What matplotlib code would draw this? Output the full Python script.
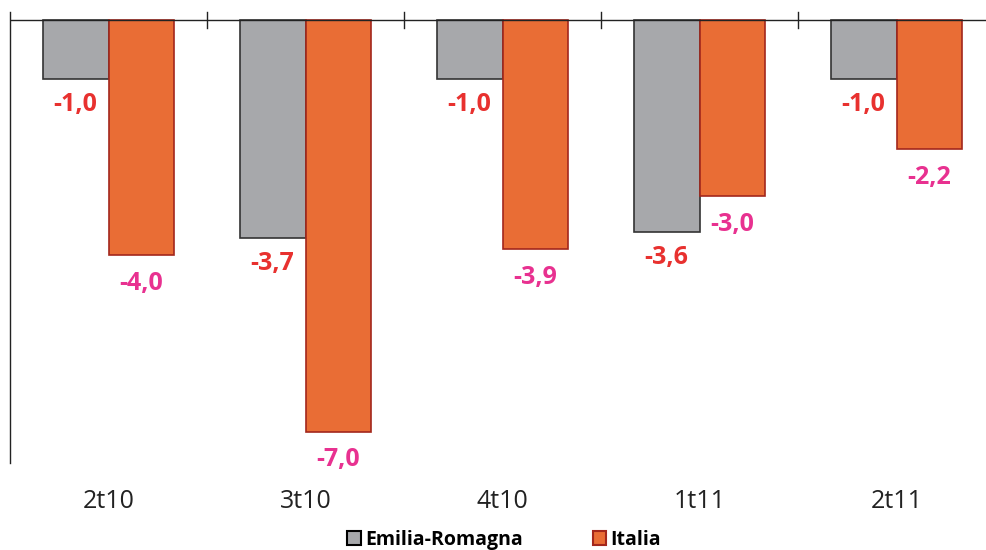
import matplotlib
matplotlib.use("Agg")
import matplotlib.pyplot as plt
import numpy as np
from matplotlib.patches import Patch

categories = ["2t10", "3t10", "4t10", "1t11", "2t11"]
emilia = [-1.0, -3.7, -1.0, -3.6, -1.0]
italia = [-4.0, -7.0, -3.9, -3.0, -2.2]
emilia_labels = ["-1,0", "-3,7", "-1,0", "-3,6", "-1,0"]
italia_labels = ["-4,0", "-7,0", "-3,9", "-3,0", "-2,2"]

gray = "#a7a8ab"
gray_edge = "#333333"
orange = "#e96d35"
orange_edge = "#a3271c"
red_txt = "#e8312f"
pink_txt = "#e83190"

plt.rcParams['font.family'] = ['Open Sans', 'DejaVu Sans']

fig = plt.figure(figsize=(9.86, 5.5), dpi=100)
W, H = 986, 550
left, right, top, bottom = 10, 995, 12, 463
ax = fig.add_axes([left / W, 1 - bottom / H, (right - left) / W, (bottom - top) / H])

x = np.arange(len(categories))
bw = 0.335
ax.bar(x - bw / 2, emilia, bw, color=gray, edgecolor=gray_edge, linewidth=1.2, zorder=2)
ax.bar(x + bw / 2, italia, bw, color=orange, edgecolor=orange_edge, linewidth=1.2, zorder=2)

for i in range(len(categories)):
    ax.annotate(emilia_labels[i], (x[i] - bw / 2, emilia[i]), xytext=(0, -26 / 1.389),
                textcoords="offset points", ha="center", va="center",
                fontsize=18, fontweight="bold", color=red_txt)
    ax.annotate(italia_labels[i], (x[i] + bw / 2, italia[i]), xytext=(0, -28 / 1.389),
                textcoords="offset points", ha="center", va="center",
                fontsize=18, fontweight="bold", color=pink_txt)

ax.set_xlim(-0.5, len(categories) - 0.5)
ax.set_ylim(-7.53, 0.136)
ax.axhline(0, color="#222222", linewidth=1.0, zorder=3)
for b in np.arange(0.5, len(categories) - 0.5, 1.0):
    ax.plot([b, b], [-0.14, 0.136], color="#222222", linewidth=1.0, zorder=3, clip_on=False)

for s in ["top", "right", "bottom"]:
    ax.spines[s].set_visible(False)
ax.spines["left"].set_color("#222222")
ax.spines["left"].set_linewidth(1.0)
ax.set_yticks([])
ax.set_xticks(x)
ax.set_xticklabels(categories, fontsize=18, color="#222222")
ax.tick_params(axis="x", length=0, pad=19)

handles = [Patch(facecolor=gray, edgecolor="black", linewidth=1.5, label="Emilia-Romagna"),
           Patch(facecolor=orange, edgecolor=orange_edge, linewidth=1.5, label="Italia")]
fig.legend(handles=handles, loc="center", bbox_to_anchor=(504 / W, 1 - 540 / H), ncol=2,
           frameon=False, prop={"size": 14, "weight": "bold"}, handlelength=0.7,
           handleheight=0.7, handletextpad=0.2, columnspacing=3.6, borderaxespad=0)

fig.savefig("out.png", dpi=100)
